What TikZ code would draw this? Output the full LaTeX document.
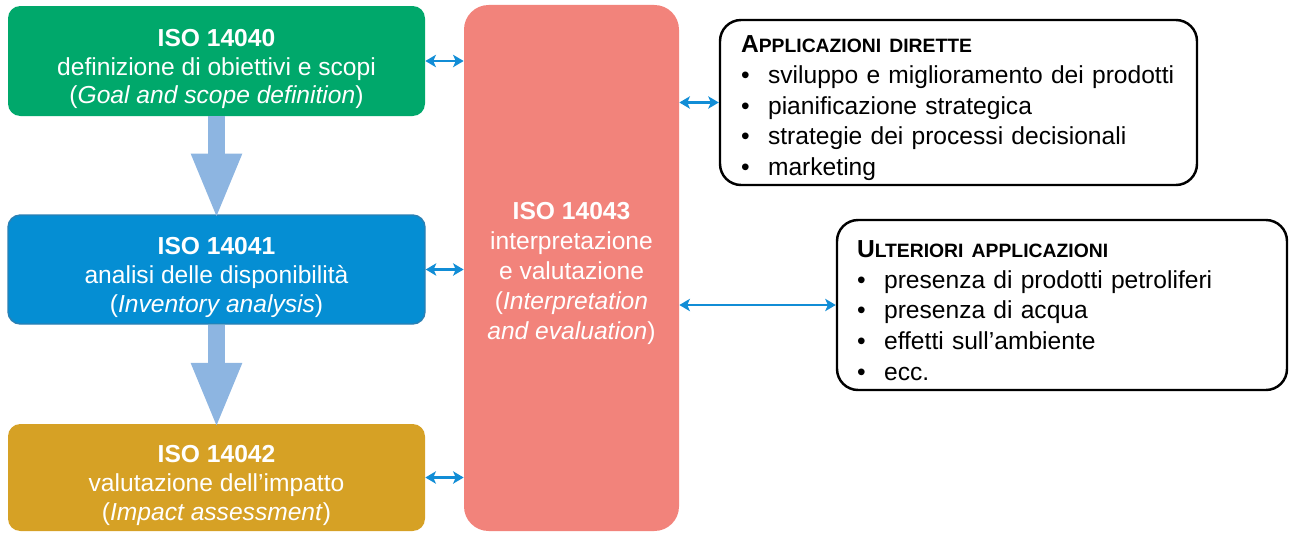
\documentclass[tikz,border=0pt]{standalone}
\usepackage{fontspec}
\setmainfont{Liberation Sans}
\definecolor{isoGreen}{HTML}{00A86B}
\definecolor{isoBlue}{HTML}{058ED3}
\definecolor{isoBlueEdge}{HTML}{2B80B4}
\definecolor{isoGold}{HTML}{D6A125}
\definecolor{isoRed}{HTML}{F2837B}
\definecolor{linkBlue}{HTML}{118DD6}
\definecolor{flowBlue}{HTML}{8DB5E1}
\usetikzlibrary{calc,positioning,arrows.meta}

\newcommand{\fakesc}[2]{#1{\fontsize{11}{13}\selectfont #2}}
\newcommand{\topgap}[1]{\rule{0pt}{#1}}

\begin{document}
\begin{tikzpicture}[
  stage/.style={rounded corners=7pt, text=white, minimum width=8.34cm,
    align=center, font=\fontsize{14}{16.4}\selectfont, inner sep=0pt},
  appbox/.style={draw=black, line width=1.4pt, rounded corners=12pt, fill=white,
    align=left, font=\fontsize{14}{17.4}\selectfont, inner sep=0pt},
  link/.style={{Stealth[length=6pt,width=7pt,inset=1.5pt]}-{Stealth[length=6pt,width=7pt,inset=1.5pt]},
    line width=1.6pt, color=linkBlue},
  flow/.style={-{Triangle[width=0.92cm,length=1.32cm]}, line width=0.34cm, color=flowBlue,
    shorten >=-3pt}
]
  \useasboundingbox (0,0) rectangle (25.78,10.64);

  \node[stage, fill=isoGreen, minimum height=2.2cm] (iso40) at (4.33,9.42)
    {\topgap{19pt}\textbf{ISO 14040}\\definizione di obiettivi e scopi\\(\textit{Goal and scope definition})};
  \node[stage, fill=isoBlue, draw=isoBlueEdge, line width=0.8pt, minimum height=2.18cm] (iso41) at (4.33,5.25)
    {\topgap{19pt}\textbf{ISO 14041}\\analisi delle disponibilità\\(\textit{Inventory analysis})};
  \node[stage, fill=isoGold, minimum height=2.14cm] (iso42) at (4.33,1.09)
    {\topgap{19pt}\textbf{ISO 14042}\\valutazione dell’impatto\\(\textit{Impact assessment})};
  \node[stage, fill=isoRed, rounded corners=14pt, minimum width=4.3cm, minimum height=10.52cm,
    font=\fontsize{14}{17}\selectfont] (iso43) at (11.43,5.28)
    {\topgap{16pt}\textbf{ISO 14043}\\interpretazione\\e valutazione\\(\textit{Interpretation}\\\textit{and evaluation})};

  \node[appbox, minimum width=9.54cm, minimum height=3.3cm, text width=8.7cm] (dirette) at (19.17,8.59)
    {\topgap{16pt}\textbf{\fakesc{A}{PPLICAZIONI DIRETTE}}\\
     •\hspace{0.75em}sviluppo e miglioramento dei prodotti\\
     •\hspace{0.75em}pianificazione strategica\\
     •\hspace{0.75em}strategie dei processi decisionali\\
     •\hspace{0.75em}marketing};
  \node[appbox, minimum width=9.0cm, minimum height=3.4cm, text width=8.2cm] (ulteriori) at (21.24,4.54)
    {\topgap{16pt}\textbf{\fakesc{U}{LTERIORI APPLICAZIONI}}\\
     •\hspace{0.75em}presenza di prodotti petroliferi\\
     •\hspace{0.75em}presenza di acqua\\
     •\hspace{0.75em}effetti sull’ambiente\\
     •\hspace{0.75em}ecc.};

  \draw[flow] (iso40.south) -- (iso41.north);
  \draw[flow] (iso41.south) -- (iso42.north);

  \draw[link] (iso40.east) -- (iso40.east -| iso43.west);
  \draw[link] (iso41.east) -- (iso41.east -| iso43.west);
  \draw[link] (iso42.east) -- (iso42.east -| iso43.west);
  \draw[link] (dirette.west -| iso43.east) -- (dirette.west);
  \draw[link] (ulteriori.west -| iso43.east) -- (ulteriori.west);
\end{tikzpicture}
\end{document}
